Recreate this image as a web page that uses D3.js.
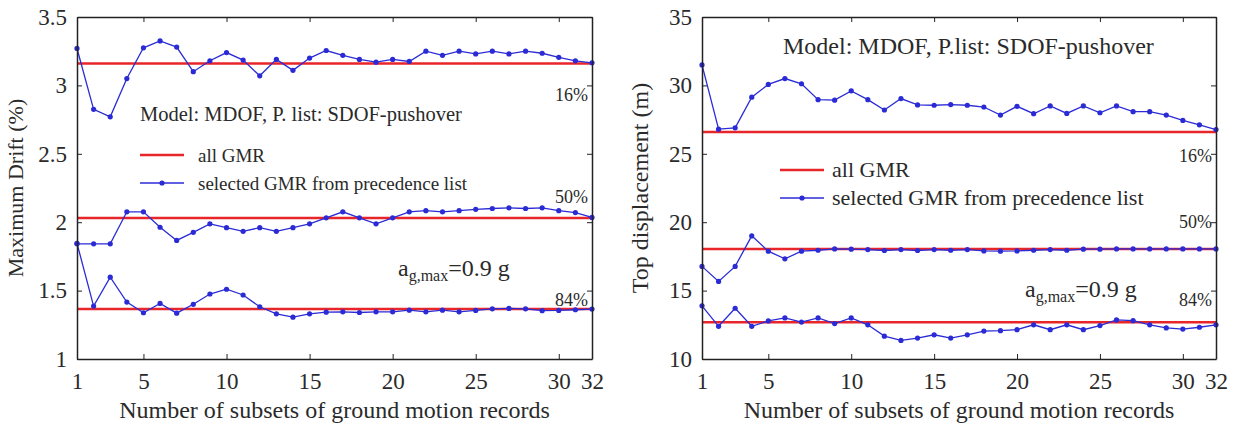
<!DOCTYPE html>
<html>
<head>
<meta charset="utf-8">
<script src="https://cdn.jsdelivr.net/npm/d3@7"></script>
<style>
  body { margin: 0; background: #fff; }
</style>
</head>
<body>
<div id="chart"></div>
<script>
const subsets = d3.range(1, 33);
const xTicks = [1, 5, 10, 15, 20, 25, 30, 32];

// left panel: maximum drift (%)
const driftAll = { p16: 3.16, p50: 2.03, p84: 1.365 };
const drift16 = [3.27, 2.825, 2.77, 3.05, 3.275, 3.325, 3.28, 3.10, 3.18, 3.24, 3.185, 3.07, 3.19, 3.11, 3.20, 3.255,
  3.22, 3.19, 3.17, 3.19, 3.175, 3.25, 3.22, 3.25, 3.23, 3.25, 3.23, 3.25, 3.235, 3.205, 3.18, 3.165];
const drift50 = [1.842, 1.842, 1.842, 2.076, 2.076, 1.963, 1.867, 1.926, 1.988, 1.96, 1.933, 1.96, 1.933, 1.96, 1.988, 2.032,
  2.076, 2.032, 1.988, 2.032, 2.076, 2.084, 2.076, 2.084, 2.094, 2.10, 2.105, 2.10, 2.105, 2.084, 2.07, 2.035];
const drift84 = [1.845, 1.387, 1.598, 1.416, 1.338, 1.406, 1.335, 1.40, 1.475, 1.51, 1.468, 1.382, 1.33, 1.306, 1.33, 1.342,
  1.345, 1.34, 1.345, 1.345, 1.357, 1.345, 1.357, 1.345, 1.355, 1.367, 1.37, 1.367, 1.353, 1.355, 1.36, 1.365];
const driftTicks = [1, 1.5, 2, 2.5, 3, 3.5];

// right panel: top displacement (m)
const dispAll = { p16: 26.6, p50: 18.05, p84: 12.68 };
const disp16 = [31.5, 26.8, 26.9, 29.14, 30.07, 30.5, 30.12, 28.96, 28.92, 29.6, 28.96, 28.2, 29.04, 28.57, 28.55, 28.6,
  28.55, 28.42, 27.83, 28.47, 27.93, 28.5, 27.95, 28.5, 28.0, 28.5, 28.08, 28.08, 27.83, 27.44, 27.12, 26.77];
const disp50 = [16.77, 15.67, 16.77, 19.0, 17.88, 17.32, 17.88, 17.95, 18.05, 18.03, 18.0, 17.93, 18.0, 17.93, 18.0, 17.95,
  18.0, 17.9, 17.88, 17.9, 17.95, 18.0, 17.95, 18.03, 18.03, 18.05, 18.05, 18.05, 18.05, 18.05, 18.05, 18.05];
const disp84 = [13.89, 12.39, 13.71, 12.39, 12.78, 13.0, 12.7, 13.0, 12.59, 13.0, 12.5, 11.67, 11.36, 11.53, 11.77, 11.53,
  11.77, 12.04, 12.07, 12.14, 12.5, 12.14, 12.5, 12.14, 12.44, 12.86, 12.8, 12.5, 12.27, 12.19, 12.32, 12.5];
const dispTicks = [10, 15, 20, 25, 30, 35];

const RED = "#e8262a";
const BLUE = "#2b2bd6";
const SERIF = "Liberation Serif, Times New Roman, DejaVu Serif, serif";

const svg = d3.select("#chart").append("svg")
    .attr("width", 1234)
    .attr("height", 425)
    .attr("font-family", SERIF);

function panel(opt) {
    const x = d3.scaleLinear().domain([1, 32]).range([opt.left, opt.right]);
    const y = d3.scaleLinear().domain(opt.domain).range([359, 17]);
    const g = svg.append("g").attr("font-family", SERIF).attr("fill", "#2a2a2a");

    // reference lines (all GMR)
    Object.values(opt.all).forEach(v => {
        g.append("line")
            .attr("x1", x(1)).attr("x2", x(32))
            .attr("y1", y(v)).attr("y2", y(v))
            .attr("stroke", RED).attr("stroke-width", 2.5);
    });

    // selected GMR curves
    const line = d3.line().x((d, i) => x(subsets[i])).y(d => y(d));
    opt.series.forEach(s => {
        g.append("path").datum(s)
            .attr("d", line)
            .attr("fill", "none")
            .attr("stroke", BLUE).attr("stroke-width", 1.3);
        g.selectAll(null).data(s).enter().append("circle")
            .attr("cx", (d, i) => x(subsets[i]))
            .attr("cy", d => y(d))
            .attr("r", 2.6)
            .attr("fill", BLUE);
    });

    // axes, ticks inside on all four sides
    const bottom = g.append("g").attr("transform", `translate(0,${y.range()[0]})`)
        .call(d3.axisBottom(x).tickValues(xTicks).tickSizeInner(-5).tickSizeOuter(0).tickPadding(14));
    const top = g.append("g").attr("transform", `translate(0,${y.range()[1]})`)
        .call(d3.axisTop(x).tickValues(xTicks).tickSizeInner(-5).tickSizeOuter(0).tickFormat(""));
    const leftAx = g.append("g").attr("transform", `translate(${opt.left},0)`)
        .call(d3.axisLeft(y).tickValues(opt.ticks).tickSizeInner(-5).tickSizeOuter(0).tickPadding(10).tickFormat(d3.format("")));
    const rightAx = g.append("g").attr("transform", `translate(${opt.right},0)`)
        .call(d3.axisRight(y).tickValues(opt.ticks).tickSizeInner(-5).tickSizeOuter(0).tickFormat(""));
    [bottom, top, leftAx, rightAx].forEach(a => {
        a.attr("font-family", SERIF);
        a.select(".domain").attr("stroke", "#222").attr("stroke-width", 1.5);
        a.selectAll(".tick line").attr("stroke", "#222");
        a.selectAll("text").attr("font-size", 23).attr("font-family", SERIF).attr("fill", "#2a2a2a");
    });

    // axis titles
    g.append("text")
        .attr("transform", `translate(${opt.left - 54},${(17 + 359) / 2}) rotate(-90)`)
        .attr("text-anchor", "middle")
        .attr("font-size", opt.ylabelSize)
        .text(opt.ylabel);
    g.append("text")
        .attr("x", (opt.left + opt.right) / 2).attr("y", 418)
        .attr("text-anchor", "middle")
        .attr("font-size", 24)
        .text("Number of subsets of ground motion records");

    // model title
    g.append("text")
        .attr("x", opt.title[0]).attr("y", opt.title[1])
        .attr("font-size", opt.titleSize)
        .text(opt.titleText);

    // legend
    const lg = g.append("g").attr("transform", `translate(${opt.legend[0]},${opt.legend[1]})`);
    lg.append("line").attr("x1", 0).attr("x2", 44).attr("y1", 0).attr("y2", 0)
        .attr("stroke", RED).attr("stroke-width", 2.5);
    lg.append("text").attr("x", opt.legendGap).attr("y", 7).attr("font-size", opt.legendSize).text("all GMR");
    lg.append("line").attr("x1", 0).attr("x2", 44).attr("y1", 28).attr("y2", 28)
        .attr("stroke", BLUE).attr("stroke-width", 1.3);
    lg.append("circle").attr("cx", 22).attr("cy", 28).attr("r", 2.6).attr("fill", BLUE);
    lg.append("text").attr("x", opt.legendGap).attr("y", 35).attr("font-size", opt.legendSize).text("selected GMR from precedence list");

    // percentile labels
    opt.pct.forEach(p => {
        g.append("text")
            .attr("x", opt.right - 4).attr("y", p[1])
            .attr("text-anchor", "end")
            .attr("font-size", 18)
            .text(p[0]);
    });

    // a_g,max
    const ag = g.append("text")
        .attr("x", opt.ag[0]).attr("y", opt.ag[1])
        .attr("font-size", 24);
    ag.append("tspan").text("a");
    ag.append("tspan").attr("font-size", 16).attr("dy", 5).text("g,max");
    ag.append("tspan").attr("dy", -5).text("=0.9 g");
}

panel({
    left: 77, right: 592,
    domain: [1, 3.5], ticks: driftTicks,
    all: driftAll, series: [drift16, drift50, drift84],
    ylabel: "Maximum Drift (%)", ylabelSize: 22,
    titleText: "Model: MDOF, P. list: SDOF-pushover", title: [140, 121], titleSize: 20.5,
    legend: [140, 155], legendGap: 58, legendSize: 19,
    pct: [["16%", 101], ["50%", 203], ["84%", 306]],
    ag: [398, 276]
});

panel({
    left: 702, right: 1216,
    domain: [10, 35], ticks: dispTicks,
    all: dispAll, series: [disp16, disp50, disp84],
    ylabel: "Top displacement (m)", ylabelSize: 24,
    titleText: "Model: MDOF, P.list: SDOF-pushover", title: [783, 54], titleSize: 24,
    legend: [780, 170], legendGap: 52, legendSize: 22,
    pct: [["16%", 162], ["50%", 228], ["84%", 306]],
    ag: [1025, 297]
});
</script>
</body>
</html>
